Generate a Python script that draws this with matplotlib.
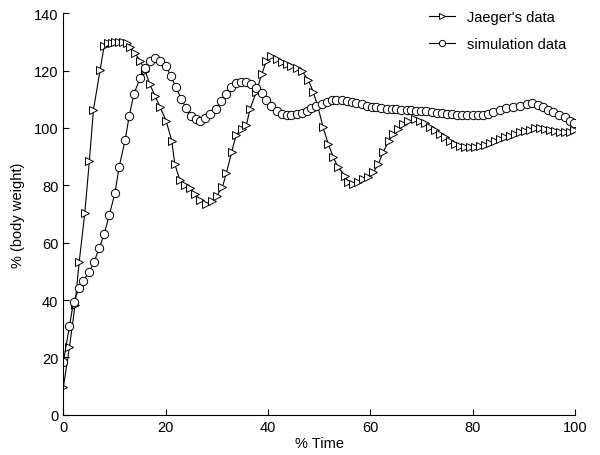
import matplotlib
matplotlib.use("Agg")
import matplotlib.pyplot as plt

plt.rcParams["font.family"] = ["Liberation Sans", "DejaVu Sans"]

# Jaeger's data
jaeger_x = [0, 1.2, 2.3, 3.1, 4.2, 5.1, 5.9, 7.2, 8.0, 8.8, 9.5, 10.1, 10.9, 11.7,
            12.4, 13.0, 14.0, 15.0, 16.0, 16.9, 17.9, 18.9, 20.1, 21.2, 21.8, 22.8,
            23.8, 24.8, 25.7, 26.8, 27.9, 29.0, 30.0, 31.1, 31.9, 32.9, 33.8, 34.9,
            35.8, 36.5, 37.7, 38.8, 39.7, 40.7, 41.7, 42.7, 43.7, 44.6, 45.6, 46.6,
            47.9, 48.9, 49.8, 50.8, 51.8, 52.8, 53.7, 55.1, 55.7, 56.7, 57.7, 58.6,
            59.6, 60.6, 61.6, 62.5, 63.7, 64.5, 65.5, 66.4, 67.4, 68.7, 69.7, 70.7,
            71.7, 72.6, 73.6, 74.6, 75.6, 76.5, 77.5, 78.5, 79.5, 80.5, 81.4, 82.4,
            83.4, 84.4, 85.3, 86.3, 87.3, 88.3, 89.2, 90.2, 91.2, 92.2, 93.2, 94.1,
            95.1, 96.1, 97.1, 98.1, 99.0, 99.8]
jaeger_y = [9.5, 23.5, 38.3, 53.2, 70.3, 88.6, 106.4, 120.3, 128.7, 129.6, 129.6, 129.9,
            130.1, 130.1, 129.6, 128.1, 126.2, 123.5, 120.0, 115.3, 111.3, 107.4, 102.5,
            95.6, 87.4, 81.8, 80.2, 79.0, 77.0, 74.8, 73.6, 74.4, 76.4, 79.3, 84.4, 91.5,
            97.6, 99.6, 101.0, 106.6, 112.4, 118.8, 123.3, 125.0, 124.1, 122.9, 122.3,
            121.7, 120.8, 120.0, 116.8, 112.4, 107.2, 100.2, 94.4, 89.8, 86.3, 83.4, 81.1,
            80.5, 81.3, 82.2, 82.8, 84.5, 87.4, 91.5, 95.6, 97.9, 99.6, 101.4, 102.3,
            103.2, 102.6, 101.6, 100.4, 99.2, 97.9, 96.7, 95.6, 94.4, 93.8, 93.3, 93.2,
            93.3, 93.6, 94.1, 94.8, 95.6, 96.2, 96.7, 97.3, 97.9, 98.5, 99.1, 99.4, 99.9,
            99.9, 99.6, 99.4, 99.1, 98.7, 98.5, 98.7, 99.4]

# simulation data
sim_x = [0, 1.2, 2.0, 3.1, 3.9, 5.1, 6.0, 7.0, 8.0, 9.0, 10.1, 10.9, 12.1, 12.9,
         13.8, 15.0, 16.0, 16.9, 17.9, 19.0, 20.1, 21.0, 22.0, 23.1, 24.0, 24.9,
         25.9, 26.8, 27.7, 28.7, 29.8, 30.8, 31.8, 32.7, 33.8, 34.7, 35.7, 36.6,
         37.7, 38.8, 39.7, 40.7, 41.7, 42.7, 43.7, 44.6, 45.6, 46.6, 47.6, 48.5,
         49.5, 50.5, 51.5, 52.5, 53.4, 54.4, 55.4, 56.4, 57.3, 58.3, 59.3, 60.3,
         61.2, 62.2, 63.2, 64.2, 65.1, 66.1, 67.1, 68.0, 69.0, 70.0, 71.0, 72.0,
         73.0, 74.0, 75.0, 76.0, 77.0, 78.0, 79.0, 80.0, 81.0, 82.0, 83.0, 84.0,
         85.3, 86.6, 87.9, 89.2, 90.6, 91.7, 92.8, 93.8, 94.8, 95.8, 96.9, 98.0,
         99.0, 99.8]
sim_y = [18.3, 30.8, 39.4, 44.1, 46.7, 49.9, 53.2, 58.0, 63.0, 69.7, 77.3, 86.3, 95.9,
         104.3, 111.9, 117.3, 120.8, 123.5, 124.5, 123.5, 121.5, 118.2, 114.2, 110.1,
         106.9, 104.3, 103.1, 102.5, 103.4, 104.9, 106.6, 109.5, 111.9, 114.2, 115.7,
         116.2, 116.2, 115.3, 113.8, 112.3, 109.7, 107.6, 106.1, 104.9, 104.5, 104.5,
         104.9, 105.2, 106.0, 106.9, 107.8, 108.4, 109.2, 109.8, 109.9, 109.9, 109.5,
         109.2, 108.7, 108.4, 107.8, 107.4, 107.2, 107.0, 106.6, 106.5, 106.5, 106.4,
         106.3, 106.2, 106.0, 105.9, 105.8, 105.6, 105.4, 105.2, 105.0, 104.8, 104.6,
         104.5, 104.5, 104.5, 104.5, 104.6, 105.0, 105.5, 106.4, 106.9, 107.2, 107.8,
         108.4, 108.7, 108.0, 107.2, 106.4, 105.5, 104.5, 103.7, 102.5, 101.7]

x_ticks = [0, 20, 40, 60, 80, 100]
y_ticks = [0, 20, 40, 60, 80, 100, 120, 140]

fig = plt.figure(figsize=(6, 4.56), dpi=100)
ax = fig.add_axes([0.1055, 0.0884, 0.8525, 0.8802])

ax.plot(jaeger_x, jaeger_y, color="black", linewidth=0.8, marker=">",
        markersize=6, markerfacecolor="white", markeredgecolor="black",
        markeredgewidth=0.7, label="Jaeger's data")
ax.plot(sim_x, sim_y, color="black", linewidth=0.8, marker="o",
        markersize=6, markerfacecolor="white", markeredgecolor="black",
        markeredgewidth=0.7, label="simulation data")

ax.set_xlim(0, 100)
ax.set_ylim(0, 140)
ax.set_xticks(x_ticks)
ax.set_yticks(y_ticks)
ax.tick_params(direction="in", length=4, labelsize=10.5, width=0.8)
ax.spines["top"].set_visible(False)
ax.spines["right"].set_visible(False)
ax.set_xlabel("% Time", fontsize=10.5, labelpad=2)
ax.set_ylabel("% (body weight)", fontsize=10.5, labelpad=6)

ax.legend(loc="upper right", frameon=False, fontsize=10.5, handlelength=1.8,
          markerscale=0.75, labelspacing=0.9, borderaxespad=0.2,
          bbox_to_anchor=(1.0, 1.03))

fig.savefig("out.png", dpi=100)
